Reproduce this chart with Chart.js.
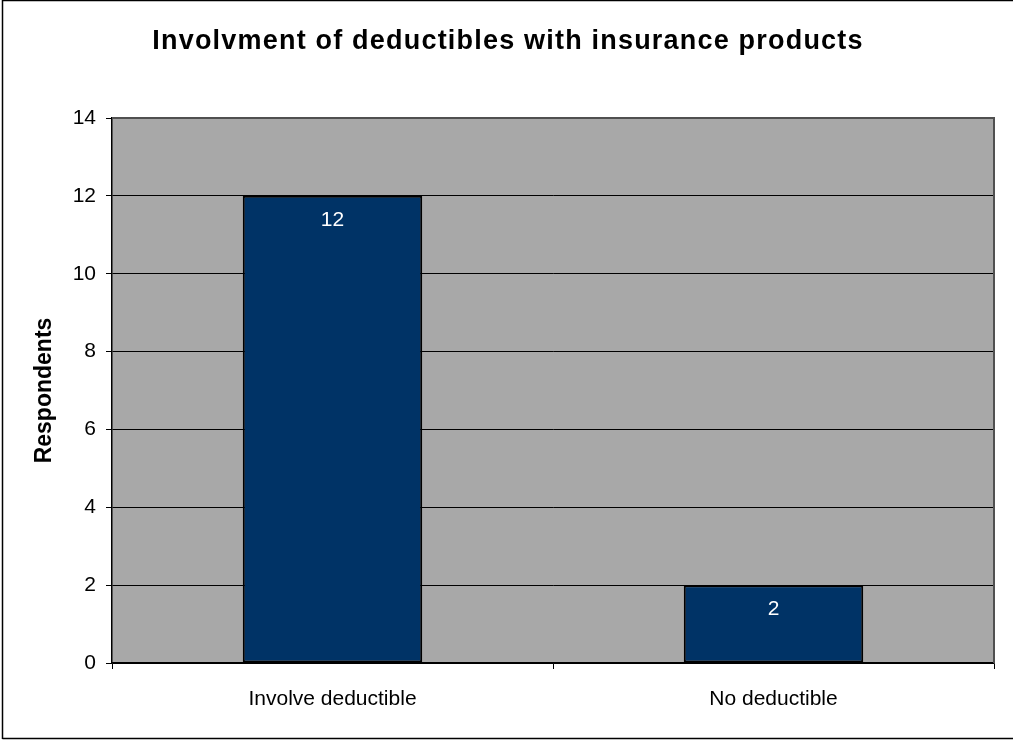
<!DOCTYPE html>
<html>
<head>
<meta charset="utf-8">
<script src="https://cdn.jsdelivr.net/npm/chart.js@4.4.1/dist/chart.umd.min.js"></script>
<style>
  html, body { margin: 0; padding: 0; background: #fff; }
  #wrap { width: 1013px; height: 740px; }
</style>
</head>
<body>
<div id="wrap"><canvas id="c" width="1013" height="740"></canvas></div>
<script>
const chartTitle = "Involvment of deductibles with insurance products";
const yAxisTitle = "Respondents";
const categories = ["Involve deductible", "No deductible"];
const respondents = [12, 2];
const yMin = 0, yMax = 14, yStep = 2;

const FONT = "'Liberation Sans', Arial, sans-serif";

const framePlugin = {
  id: 'frame',
  beforeDraw(chart) {
    const { ctx, chartArea: a } = chart;
    ctx.save();
    ctx.fillStyle = '#fff';
    ctx.fillRect(0, 0, chart.width, chart.height);
    ctx.fillStyle = '#A8A8A8';
    ctx.fillRect(a.left, a.top, a.right - a.left, a.bottom - a.top);
    // outer border
    ctx.strokeStyle = '#000';
    ctx.lineWidth = 1.5;
    ctx.beginPath();
    ctx.moveTo(2.5, 739);
    ctx.lineTo(2.5, 0.5);
    ctx.lineTo(1013, 0.5);
    ctx.moveTo(2.5, 738.5);
    ctx.lineTo(1013, 738.5);
    ctx.stroke();
    // title
    ctx.fillStyle = '#000';
    ctx.font = "bold 27px " + FONT;
    try { ctx.letterSpacing = '1.2px'; } catch (e) {}
    ctx.textAlign = 'center';
    ctx.textBaseline = 'alphabetic';
    ctx.fillText(chartTitle, 508, 49);
    try { ctx.letterSpacing = '0px'; } catch (e) {}
    ctx.restore();
  },
  afterDatasetsDraw(chart) {
    const { ctx, chartArea: a } = chart;
    ctx.save();
    // plot area border top/right
    ctx.strokeStyle = '#505050';
    ctx.lineWidth = 2;
    ctx.beginPath();
    ctx.moveTo(a.left, a.top);
    ctx.lineTo(a.right, a.top);
    ctx.lineTo(a.right, a.bottom);
    ctx.stroke();
    // data labels
    const meta = chart.getDatasetMeta(0);
    ctx.fillStyle = '#fff';
    ctx.font = "21px " + FONT;
    ctx.textAlign = 'center';
    ctx.textBaseline = 'alphabetic';
    meta.data.forEach((bar, i) => {
      ctx.fillText(String(respondents[i]), bar.x, bar.y + 30);
    });
    ctx.restore();
  }
};

new Chart(document.getElementById('c'), {
  type: 'bar',
  data: {
    labels: categories,
    datasets: [{
      data: respondents,
      backgroundColor: '#003366',
      borderColor: '#000',
      borderWidth: 2,
      borderSkipped: false,
      barPercentage: 0.407,
      categoryPercentage: 1.0
    }]
  },
  options: {
    responsive: false,
    animation: false,
    layout: { padding: { top: 118, left: 0, right: 19, bottom: 0 } },
    plugins: {
      legend: { display: false },
      title: { display: false },
      tooltip: { enabled: false }
    },
    scales: {
      x: {
        offset: true,
        grid: { offset: true, drawOnChartArea: false, drawTicks: true, tickLength: 6, color: '#000', lineWidth: 1 },
        border: { display: true, color: '#000', width: 1.5 },
        ticks: { color: '#000', font: { family: FONT, size: 21 }, padding: 18, maxRotation: 0 },
        afterFit(scale) { scale.height = 77; }
      },
      y: {
        min: yMin, max: yMax,
        ticks: { stepSize: yStep, color: '#000', font: { family: FONT, size: 21 }, padding: 10 },
        grid: { color: '#000', lineWidth: 1, tickLength: 6, drawTicks: true },
        border: { display: true, color: '#000', width: 1.5 },
        title: { display: true, text: yAxisTitle, color: '#000', font: { family: FONT, size: 23, weight: 'bold' }, padding: { top: 31, bottom: 0 } },
        afterFit(scale) { scale.width = 112; }
      }
    }
  },
  plugins: [framePlugin]
});
</script>
</body>
</html>
